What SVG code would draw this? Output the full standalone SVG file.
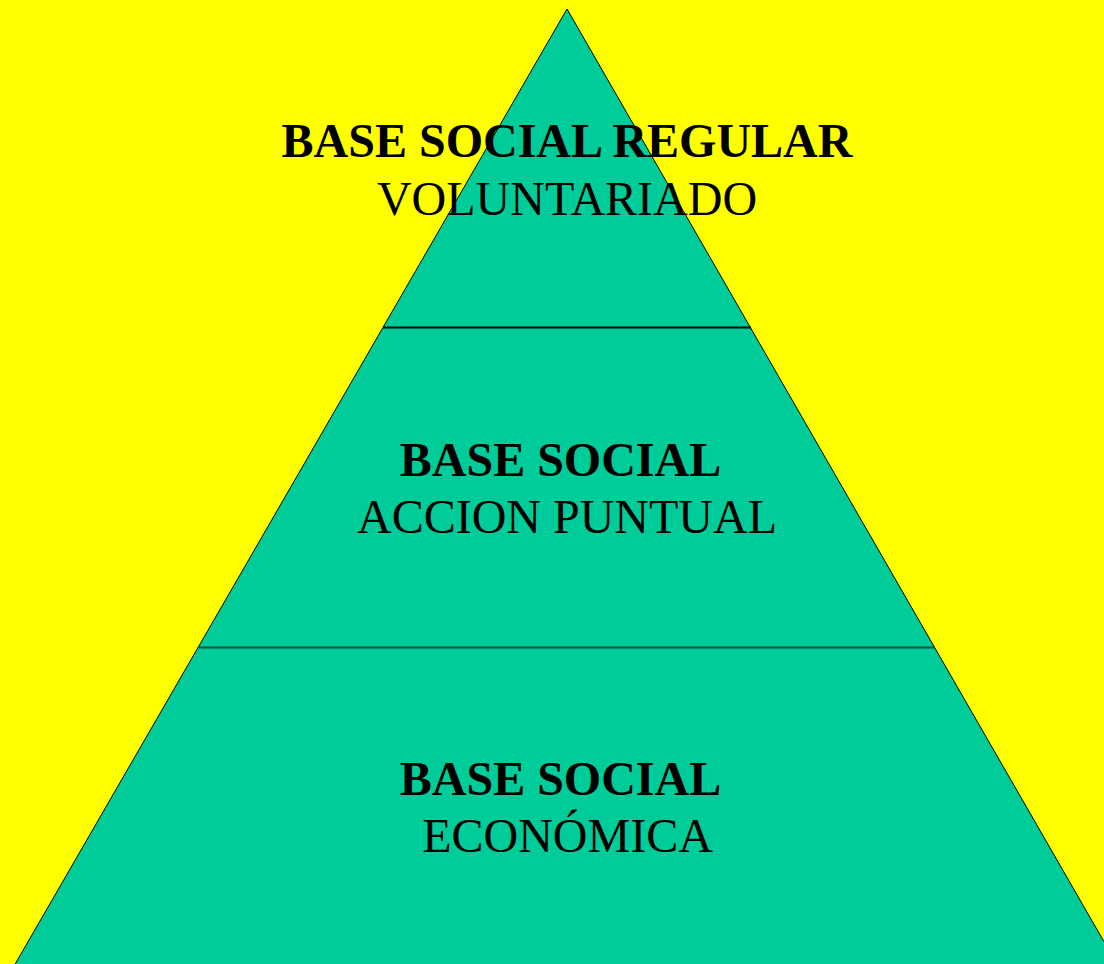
<svg xmlns="http://www.w3.org/2000/svg" width="1104" height="964" viewBox="0 0 1104 964">
<style>
.t{font-family:"Liberation Serif","Times New Roman",serif;font-size:48px;fill:#000;text-anchor:middle}
.b{font-weight:bold}
.div{stroke-width:2}
</style>
<rect x="0" y="0" width="1104" height="964" fill="#FFFF00"/>
<g id="pyramid">
<polygon points="567,9 14,966 1118,966" fill="#00CC99" stroke="#000" stroke-width="1"/>
</g>
<g id="connectors">
<line class="div" x1="383" y1="327.5" x2="751" y2="327.5" stroke="#000"/>
<line class="div" x1="199" y1="647.5" x2="935" y2="647.5" stroke="#0b4f3d"/>
</g>
<g id="top">
<text class="t b" x="567" y="157">BASE SOCIAL REGULAR</text>
<text class="t" x="567" y="215">VOLUNTARIADO</text>
</g>
<g id="middle">
<text class="t b" x="560.5" y="476">BASE SOCIAL</text>
<text class="t" x="567" y="533">ACCION PUNTUAL</text>
</g>
<g id="bottom">
<text class="t b" x="560.5" y="795">BASE SOCIAL</text>
<text class="t" x="567.5" y="852">ECONÓMICA</text>
</g>
</svg>
